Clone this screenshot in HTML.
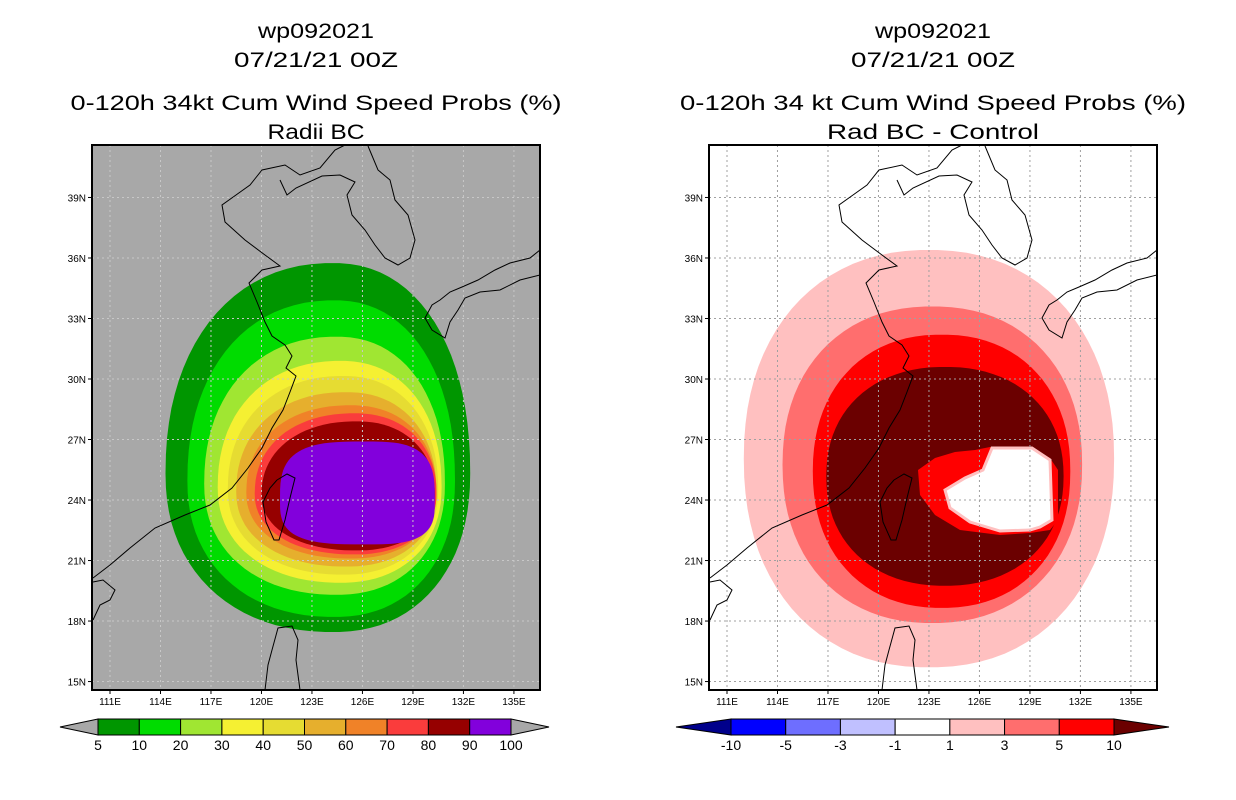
<!DOCTYPE html>
<html><head><meta charset="utf-8"><style>
body{margin:0;background:#fff;}
svg{display:block;font-family:"Liberation Sans",sans-serif;}
</style></head><body>
<svg id="fig" width="1236" height="800" viewBox="0 0 1236 800" xmlns="http://www.w3.org/2000/svg">
<g id="left"></g>
<g id="right"></g>
</svg>
<script>
// ---- data ----
const lonTicks = [111,114,117,120,123,126,129,132,135];
const latTicks = [15,18,21,24,27,30,33,36,39];
const leftLevels = [5,10,20,30,40,50,60,70,80,90,100];
const leftColors = ['#009600','#00dc00','#a0e632','#f5f032','#e6dc32','#e6af2d','#f08228','#fa3c3c','#960000','#8200dc'];
// contour extents in lon/lat: [west, north, east, south]
const leftW = [114.3,115.6,116.6,117.4,118.0,118.5,119.1,119.6,120.0,121.1];
const leftN = [35.75,33.9,32.1,30.9,30.15,29.35,28.7,28.3,27.9,26.9];
const leftE = [132.4,131.5,130.9,130.7,130.5,130.4,130.4,130.4,130.3,130.3];
const leftS = [17.45,18.2,19.3,19.9,20.3,20.7,21.1,21.3,21.5,21.8];
const rightLevels = [-10,-5,-3,-1,1,3,5,10];
const rightColors = ['#ffc0c0','#ff6e6e','#ff0000','#6b0000'];
const rightW = [112.0,114.3,116.1,116.9];
const rightN = [36.4,33.6,32.2,30.6];
const rightE = [134.0,132.1,131.4,131.0];
const rightS = [15.7,17.9,18.65,19.75];
// ---- axes ----
const X0=[0,617];
function lonX(lon,p){return 110+(lon-111)*16.83+X0[p];}
function latY(lat){return 379-(lat-30)*20.17;}
const NS='http://www.w3.org/2000/svg';
function el(tag,attrs,parent){const e=document.createElementNS(NS,tag);for(const k in attrs)e.setAttribute(k,attrs[k]);parent.appendChild(e);return e;}
function blob(W,N,E,S,p,n,cyf,cxf){
  const L=lonX(W,p),R=lonX(E,p),T=latY(N),B=latY(S);
  const cx=L+(R-L)*cxf, cy=T+(B-T)*cyf;
  let d='';
  for(let i=0;i<=90;i++){const a=i/90*2*Math.PI;const c=Math.cos(a),s=Math.sin(a);
    const x=cx+(c>0?R-cx:cx-L)*Math.sign(c)*Math.pow(Math.abs(c),2/n);
    const y=cy+(s>0?B-cy:cy-T)*Math.sign(s)*Math.pow(Math.abs(s),2/n);
    d+=(i?'L':'M')+x.toFixed(1)+' '+y.toFixed(1);}
  return d+'Z';
}
const coasts=[
 [[93,578],[110,565],[130,548],[155,528],[185,515],[210,505],[232,488],[248,468],[262,448],[272,428],[283,410],[290,392],[296,376],[286,368],[292,356],[285,345],[272,336],[265,322],[257,302],[249,283],[262,270],[280,266],[265,255],[245,240],[225,222],[222,205],[236,195],[250,185],[262,170],[285,165],[300,175],[320,168],[335,150],[345,145]],
 [[368,146],[378,170],[390,180],[395,200],[408,215],[415,240],[410,258],[398,265],[385,258],[375,245],[365,230],[352,215],[347,195],[355,182],[340,175],[322,176],[296,188],[287,195],[280,180]],
 [[540,250],[530,258],[510,263],[495,270],[478,280],[462,287],[450,292],[440,300],[432,305],[425,318],[432,330],[445,338],[450,322],[458,310],[465,298],[480,292],[500,290],[520,280],[540,275]],
 [[277,480],[287,474],[295,478],[290,498],[285,520],[279,540],[274,540],[266,522],[263,502],[270,488],[277,480]],
 [[265,690],[268,665],[272,650],[278,628],[292,626],[298,640],[296,660],[300,690]],
 [[93,620],[100,605],[110,600],[115,590],[103,580],[93,582]]
];
function txt(g,x,y,s,str,len,name){
  const a={x:x,y:y,'font-size':s,'text-anchor':'middle'};
  if(len){a.textLength=len;a.lengthAdjust='spacingAndGlyphs';}
  const t=el('text',a,g);t.textContent=str;
  
  
}
function panel(p,g,bg,levels,colors,W,N,E,S,title2,t2len,barLabels,barColors,triL,triR){
  const L=92+X0[p],R=540+X0[p],T=145,B=690;
  const cxT=(L+R)/2;
  txt(g,cxT,38,21,'wp092021',116,'storm-id-title');
  txt(g,cxT,67,21,'07/21/21 00Z',164,'date-title');
  txt(g,cxT,110,21,p?'0-120h 34 kt Cum Wind Speed Probs (%)':'0-120h 34kt Cum Wind Speed Probs (%)',p?506:491,'chart-title');
  txt(g,cxT,139,21,title2,t2len,'chart-subtitle');
  const cp=el('clipPath',{id:'clip'+p},g);el('rect',{x:L,y:T,width:R-L,height:B-T},cp);
  const map=el('g',{'clip-path':'url(#clip'+p+')'},g);
  
  el('rect',{x:L,y:T,width:R-L,height:B-T,fill:bg},map);
  for(let i=0;i<W.length;i++){
    const n=(i===W.length-1&&p===0)?3.2:2.2;
    const sh=el('path',{d:blob(W[i],N[i],E[i],S[i],p,n,p?0.5:0.57,p?0.5:0.55),fill:colors[i]},map);
    
  }
  if(p===1){
    const hole=[[918,470],[935,458],[955,452],[975,450],[990,447],[1030,447],[1050,458],[1058,470],[1058,520],[1050,530],[1030,533],[1000,535],[960,530],[935,515],[920,495]];
    const h1=el('path',{d:'M'+hole.map(q=>q.join(' ')).join('L')+'Z',fill:'#ff0000'},map);
    
    const wh=[[945,490],[965,478],[983,470],[992,448],[1032,448],[1050,460],[1052,520],[1040,527],[1030,530],[1000,531],[970,522],[950,508]];
    const h2=el('path',{d:'M'+wh.map(q=>q.join(' ')).join('L')+'Z',fill:'#ffffff',stroke:'#ffc0c0','stroke-width':3},map);
    
  }
  const gc=p?'#a0a0a0':'#c8c8c8';
  lonTicks.forEach(lon=>{const x=lonX(lon,p);
    const ln=el('line',{x1:x,x2:x,y1:T,y2:B,stroke:gc,'stroke-dasharray':'2,3'},map);
    
    const tx=el('text',{x:x,y:705,'font-size':10,'text-anchor':'middle'},g);tx.textContent=lon+'E';
    
    el('line',{x1:x,x2:x,y1:B,y2:B+4,stroke:'#000'},g);});
  latTicks.forEach(lat=>{const y=latY(lat);
    const ln=el('line',{x1:L,x2:R,y1:y,y2:y,stroke:gc,'stroke-dasharray':'2,3'},map);
    
    const tx=el('text',{x:L-6,y:y+4,'font-size':10,'text-anchor':'end'},g);tx.textContent=lat+'N';
    
    el('line',{x1:L-4,x2:L,y1:y,y2:y,stroke:'#000'},g);});
  coasts.forEach(c=>{const cl=el('polyline',{points:c.map(q=>(q[0]+X0[p])+','+q[1]).join(' '),fill:'none',stroke:'#000','stroke-width':1},map);
    });
  const fr=el('rect',{x:L,y:T,width:R-L,height:B-T,fill:'none',stroke:'#000','stroke-width':2},g);
  
  const cb=el('g',{},g);
  const bx0=p?731:98,bx1=p?1114:511,tw=p?55:38,y0=719,y1=735;
  const bw=(bx1-bx0)/barColors.length;
  el('polygon',{points:`${bx0},${y0} ${bx0-tw},${(y0+y1)/2} ${bx0},${y1}`,fill:triL,stroke:'#000'},cb);
  el('polygon',{points:`${bx1},${y0} ${bx1+tw},${(y0+y1)/2} ${bx1},${y1}`,fill:triR,stroke:'#000'},cb);
  barColors.forEach((c,i)=>{const r=el('rect',{x:bx0+i*bw,y:y0,width:bw,height:y1-y0,fill:c,stroke:'#000'},cb);
    });
  barLabels.forEach((v,i)=>{const tx=el('text',{x:bx0+i*bw,y:750,'font-size':14,'text-anchor':'middle'},cb);tx.textContent=v;
    });
}
panel(0,document.getElementById('left'),'#a8a8a8',leftLevels,leftColors,leftW,leftN,leftE,leftS,'Radii BC',97,leftLevels,leftColors,'#a8a8a8','#a8a8a8');
panel(1,document.getElementById('right'),'#ffffff',rightLevels.slice(4),rightColors,rightW,rightN,rightE,rightS,'Rad BC - Control',212,rightLevels,['#0000ff','#6e6eff','#c0c0ff','#ffffff','#ffc0c0','#ff6e6e','#ff0000'],'#00008b','#6b0000');
</script>
</body></html>
